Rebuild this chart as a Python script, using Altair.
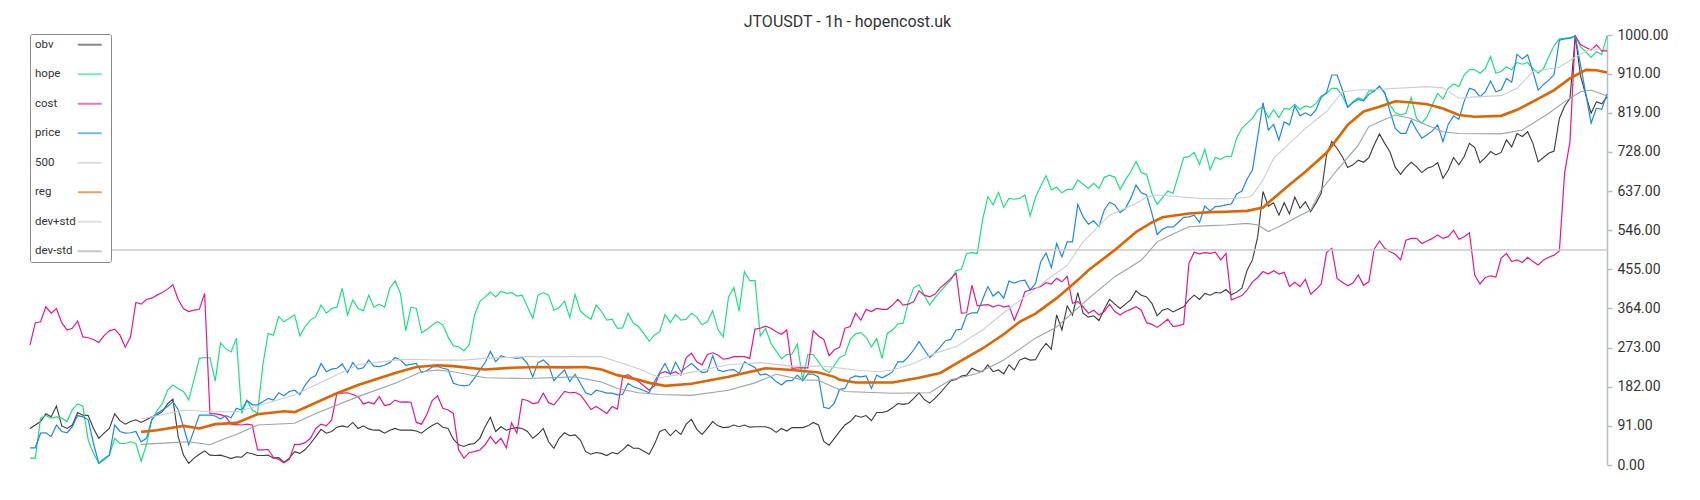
import altair as alt
import pandas as pd

TITLE = "JTOUSDT - 1h - hopencost.uk"
NAMES = ["obv", "hope", "cost", "price", "500", "reg", "dev+std", "dev-std"]
COLORS = ["#3a3a3a", "#1ee07f", "#e6198a", "#1e88e5", "#c8c8c8", "#e06400", "#c9cfd4", "#98a4ae"]
WIDTHS = [1.1, 1.2, 1.2, 1.2, 1.5, 2.6, 1.1, 1.1]
Y_TICKS = [0, 91, 182, 273, 364, 455, 546, 637, 728, 819, 910, 1000]
LAST_BAR = 298

OBV = [(0,85),(1,93),(2,101),(3,119),(4,112),(5,137),(6,91),(7,85),(8,93),(9,122),(10,116),(11,115),(12,85),(13,62),(14,74),(15,85),(16,119),(17,103),(18,95),(19,101),(20,105),(21,99),(22,105),(23,112),(24,116),(25,124),(26,142),(27,153),(28,66),(29,23),(30,4),(31,16),(32,25),(33,33),(34,23),(35,22),(36,23),(37,19),(38,15),(39,19),(40,18),(41,29),(42,26),(43,22),(44,22),(45,23),(46,16),(47,17),(48,6),(49,16),(50,31),(51,27),(52,36),(53,50),(54,66),(55,83),(56,74),(57,78),(58,88),(59,91),(60,88),(61,99),(62,85),(63,91),(64,84),(65,81),(66,81),(67,74),(68,81),(69,85),(70,81),(71,81),(72,81),(73,79),(74,74),(75,84),(76,92),(77,98),(78,88),(79,85),(80,60),(81,47),(82,43),(83,48),(84,50),(85,62),(86,89),(87,111),(88,78),(89,89),(90,81),(91,85),(92,87),(93,85),(94,78),(95,62),(96,72),(97,85),(98,54),(99,39),(100,62),(101,75),(102,68),(103,70),(104,58),(105,31),(106,25),(107,29),(108,27),(109,22),(110,29),(111,26),(112,35),(113,47),(114,39),(115,39),(117,25),(118,48),(119,78),(120,83),(121,68),(122,81),(123,71),(124,95),(125,106),(126,83),(127,71),(128,85),(129,101),(130,91),(131,87),(132,88),(133,93),(134,89),(135,93),(136,88),(137,89),(138,89),(139,89),(140,85),(141,76),(142,85),(143,79),(144,87),(145,87),(146,87),(147,91),(148,99),(149,93),(150,55),(151,46),(152,62),(153,78),(154,93),(155,101),(156,115),(157,111),(158,115),(159,103),(160,122),(161,122),(162,125),(163,133),(164,143),(165,141),(166,143),(167,155),(168,168),(169,152),(170,144),(171,155),(172,168),(173,182),(174,196),(175,199),(176,207),(177,209),(178,225),(179,219),(180,217),(181,233),(182,217),(183,221),(184,212),(185,233),(186,221),(187,244),(188,249),(189,244),(190,245),(191,267),(192,283),(193,269),(194,349),(195,314),(196,370),(197,349),(198,401),(199,353),(200,344),(201,347),(202,336),(203,362),(204,385),(205,374),(206,364),(207,374),(208,384),(209,405),(210,395),(211,391),(212,376),(213,347),(214,360),(215,364),(216,356),(217,362),(218,368),(219,384),(220,395),(221,385),(222,399),(223,395),(224,401),(225,400),(226,408),(227,396),(228,402),(229,411),(230,453),(231,477),(232,531),(233,636),(234,602),(235,610),(236,581),(237,610),(238,584),(239,623),(240,597),(241,612),(242,589),(243,609),(244,632),(245,721),(246,752),(247,736),(248,717),(249,692),(250,698),(251,709),(252,704),(253,715),(254,744),(255,770),(256,748),(257,728),(258,692),(259,676),(260,692),(261,704),(262,694),(263,680),(264,690),(265,694),(266,703),(267,667),(268,686),(269,715),(270,698),(271,717),(272,748),(273,738),(274,703),(275,715),(276,729),(277,721),(278,727),(279,756),(280,740),(281,771),(282,764),(283,775),(284,748),(285,705),(286,715),(287,725),(288,730),(289,806),(290,835),(291,853),(292,998),(293,905),(294,860),(295,818),(296,845),(297,840),(298,856)]

HOPE = [(0,16),(1,16),(2,109),(3,115),(4,109),(5,112),(6,109),(7,101),(8,129),(9,142),(10,137),(11,58),(12,27),(13,4),(14,16),(15,23),(16,62),(17,50),(18,50),(19,54),(20,50),(21,9),(22,47),(23,105),(24,126),(25,143),(26,174),(27,186),(28,178),(29,171),(30,151),(31,199),(32,248),(33,250),(34,249),(35,195),(36,284),(37,270),(38,263),(39,295),(40,120),(41,150),(42,128),(43,120),(44,233),(45,306),(46,302),(47,345),(48,333),(49,341),(50,349),(51,300),(52,322),(53,337),(54,345),(55,372),(56,353),(57,364),(58,367),(59,411),(60,349),(61,384),(62,364),(63,359),(64,395),(65,367),(66,374),(67,367),(68,411),(69,428),(70,399),(71,312),(72,367),(73,364),(74,308),(75,315),(76,325),(77,333),(78,326),(79,298),(80,277),(81,275),(82,266),(83,279),(84,349),(85,380),(86,391),(87,402),(88,391),(89,404),(90,399),(91,401),(92,393),(93,395),(94,368),(95,341),(96,395),(97,401),(98,395),(99,360),(100,366),(101,381),(102,343),(103,397),(104,358),(105,347),(106,339),(107,372),(108,357),(109,337),(110,339),(111,318),(112,319),(113,353),(114,330),(115,322),(117,288),(118,302),(119,310),(120,350),(121,331),(122,350),(123,337),(124,339),(125,353),(126,344),(127,326),(128,333),(129,359),(130,315),(131,298),(132,391),(133,413),(134,358),(135,450),(136,429),(137,429),(138,300),(139,318),(140,283),(141,265),(142,247),(143,257),(144,258),(145,281),(146,198),(147,257),(148,257),(149,240),(150,222),(151,215),(152,232),(153,250),(154,256),(155,292),(156,305),(157,308),(158,297),(159,275),(160,294),(161,248),(162,306),(163,314),(164,328),(165,330),(166,380),(167,412),(168,419),(169,395),(170,372),(171,389),(172,403),(173,417),(174,430),(175,452),(176,455),(177,492),(178,494),(179,492),(180,570),(181,624),(182,605),(183,634),(184,599),(185,620),(186,618),(187,620),(188,628),(189,579),(190,622),(191,649),(192,673),(193,640),(194,646),(195,633),(196,641),(197,641),(198,663),(199,653),(200,643),(201,655),(202,643),(203,669),(204,674),(205,669),(206,641),(207,663),(208,682),(209,706),(210,680),(211,676),(212,632),(213,606),(214,622),(215,637),(216,632),(218,715),(219,717),(220,727),(221,699),(222,734),(223,687),(224,715),(225,711),(226,718),(227,717),(228,760),(229,783),(230,795),(231,806),(232,826),(233,833),(234,808),(235,826),(236,808),(237,829),(238,827),(239,839),(240,827),(241,835),(242,832),(243,841),(244,858),(245,864),(246,876),(247,876),(248,858),(249,832),(250,845),(251,854),(252,849),(253,870),(254,870),(255,880),(256,864),(257,837),(258,819),(259,814),(260,818),(261,855),(262,806),(263,795),(264,810),(265,838),(266,864),(267,851),(268,876),(269,886),(270,880),(271,907),(272,920),(273,919),(274,911),(275,922),(276,950),(277,911),(278,915),(279,926),(280,919),(281,936),(282,932),(283,936),(284,922),(285,911),(286,922),(287,950),(288,975),(289,991),(290,992),(291,994),(292,998),(293,973),(294,961),(295,948),(296,961),(297,955),(298,998)]

COST = [(0,279),(1,331),(2,333),(3,368),(4,353),(5,364),(6,331),(7,314),(8,318),(9,335),(10,298),(11,296),(12,292),(13,285),(14,301),(15,312),(16,316),(17,302),(18,274),(19,298),(20,378),(21,374),(22,385),(23,388),(24,395),(25,401),(26,409),(27,419),(28,385),(29,364),(30,357),(31,360),(32,362),(33,399),(34,120),(35,119),(36,117),(37,112),(38,95),(39,94),(40,93),(41,95),(42,93),(43,35),(44,35),(45,36),(46,18),(47,13),(48,5),(49,13),(50,48),(51,48),(52,52),(53,62),(54,85),(55,95),(56,91),(57,105),(58,167),(59,167),(60,168),(61,164),(62,159),(63,142),(64,146),(65,142),(66,159),(67,138),(68,141),(69,151),(70,146),(71,147),(72,146),(73,99),(74,95),(75,118),(76,150),(77,161),(78,132),(79,128),(80,120),(81,35),(82,16),(83,29),(84,31),(85,35),(86,47),(87,66),(88,50),(89,62),(90,40),(91,98),(92,74),(93,153),(94,150),(95,143),(96,145),(97,167),(98,145),(99,140),(100,155),(101,171),(102,168),(103,169),(104,163),(105,147),(106,129),(107,136),(108,128),(109,120),(110,136),(111,130),(112,206),(113,210),(114,202),(115,194),(117,174),(118,184),(119,213),(120,217),(121,212),(122,217),(123,209),(124,250),(125,260),(126,240),(127,233),(128,257),(129,261),(130,256),(131,246),(132,248),(133,252),(134,252),(135,252),(136,248),(137,316),(138,318),(139,323),(140,318),(141,310),(142,304),(143,314),(144,225),(145,226),(146,226),(147,226),(148,312),(149,300),(150,292),(151,254),(152,268),(153,274),(154,318),(155,322),(156,353),(157,337),(158,362),(159,357),(160,364),(161,362),(162,362),(163,372),(164,385),(165,372),(166,374),(167,380),(168,405),(169,395),(170,391),(171,397),(172,412),(173,422),(174,434),(175,446),(176,353),(177,354),(178,418),(179,370),(180,372),(181,373),(182,368),(183,372),(184,368),(185,370),(186,337),(187,366),(188,403),(189,407),(190,411),(191,415),(192,424),(193,421),(194,434),(195,426),(196,439),(197,376),(198,380),(199,368),(200,353),(201,360),(202,349),(203,357),(204,374),(205,357),(206,349),(207,357),(208,362),(209,368),(210,360),(211,331),(212,327),(213,320),(214,329),(215,339),(216,322),(217,324),(218,327),(219,469),(220,495),(221,491),(222,494),(223,492),(224,495),(225,477),(226,492),(227,384),(228,389),(229,394),(230,407),(231,426),(232,436),(233,450),(234,444),(235,452),(236,444),(237,448),(238,415),(239,425),(240,415),(241,432),(242,397),(243,408),(244,421),(245,494),(246,504),(247,434),(248,425),(249,417),(250,423),(251,442),(252,418),(253,426),(254,502),(255,521),(256,504),(257,496),(258,490),(259,477),(260,523),(261,527),(262,527),(263,515),(264,521),(265,527),(266,535),(267,527),(268,531),(269,546),(270,525),(271,531),(272,540),(273,442),(274,421),(275,436),(276,440),(277,437),(278,481),(279,492),(280,473),(281,477),(282,471),(283,483),(284,473),(285,465),(286,477),(287,483),(288,488),(289,498),(290,680),(291,752),(292,998),(293,978),(294,971),(295,965),(296,977),(297,963),(298,963)]

PRICE = [(0,40),(1,40),(2,74),(3,75),(4,66),(5,93),(6,78),(7,75),(8,89),(9,115),(10,112),(11,105),(12,50),(13,4),(14,12),(15,23),(16,93),(17,78),(18,74),(19,75),(20,78),(21,54),(22,62),(23,105),(24,120),(25,128),(26,136),(27,147),(28,129),(29,89),(30,47),(31,81),(32,116),(33,116),(34,116),(35,114),(36,107),(37,115),(38,110),(39,132),(40,128),(41,150),(42,140),(43,140),(44,147),(45,155),(46,151),(47,168),(48,161),(49,171),(50,174),(51,164),(52,186),(53,202),(54,208),(55,236),(56,217),(57,223),(58,225),(59,235),(60,215),(61,238),(62,223),(63,226),(64,244),(65,230),(66,229),(67,232),(68,238),(69,250),(70,244),(71,232),(72,234),(73,236),(74,215),(75,219),(76,228),(77,229),(78,225),(79,222),(80,190),(81,186),(82,184),(83,186),(84,202),(85,221),(86,238),(87,264),(88,240),(89,254),(90,250),(91,250),(92,248),(93,250),(94,236),(95,205),(96,238),(97,244),(98,233),(99,196),(100,209),(101,221),(102,194),(103,211),(104,190),(105,168),(106,163),(107,174),(108,171),(109,167),(110,167),(111,163),(112,164),(113,190),(114,182),(115,178),(117,168),(118,194),(119,215),(120,236),(121,211),(122,239),(123,217),(124,227),(125,236),(126,225),(127,215),(128,217),(129,254),(130,221),(131,217),(132,221),(133,222),(134,213),(135,240),(136,233),(137,227),(138,209),(139,212),(140,205),(141,194),(142,186),(143,196),(144,196),(145,209),(146,196),(147,212),(148,211),(149,205),(150,134),(151,131),(152,144),(153,176),(154,178),(155,202),(156,207),(157,205),(158,207),(159,178),(160,209),(161,203),(162,209),(163,217),(164,240),(165,240),(166,252),(167,268),(168,287),(169,268),(170,250),(171,261),(172,274),(173,289),(174,292),(175,314),(176,316),(177,349),(178,354),(179,354),(180,385),(181,415),(182,393),(183,403),(184,388),(185,428),(186,423),(187,428),(188,430),(189,407),(190,422),(191,473),(192,493),(193,459),(194,515),(195,484),(196,519),(197,519),(198,606),(199,577),(200,560),(201,568),(202,554),(203,593),(204,611),(205,605),(206,587),(207,597),(208,620),(209,651),(210,633),(211,628),(212,585),(213,536),(214,548),(215,554),(216,553),(217,564),(218,576),(219,577),(220,581),(221,564),(222,602),(223,591),(224,601),(225,602),(226,605),(227,607),(228,630),(229,637),(230,665),(231,686),(232,764),(233,843),(234,779),(235,792),(236,756),(237,798),(238,791),(239,835),(240,812),(241,819),(242,812),(243,826),(244,855),(245,866),(246,907),(247,907),(248,872),(249,832),(250,843),(251,850),(252,847),(253,862),(254,870),(255,881),(256,866),(257,822),(258,783),(259,771),(260,771),(261,802),(262,779),(263,760),(264,768),(265,777),(266,791),(267,752),(268,792),(269,812),(270,804),(271,845),(272,876),(273,872),(274,856),(275,868),(276,893),(277,868),(278,872),(279,899),(280,890),(281,955),(282,944),(283,954),(284,915),(285,872),(286,885),(287,895),(288,908),(289,988),(290,991),(291,992),(292,998),(293,930),(294,863),(295,795),(296,830),(297,827),(298,863)]

LEVEL_500 = [(0,500),(298,500)]

REG = [(21,77),(24,81),(29,91),(32,85),(35,95),(39,98),(43,118),(48,125),(50,123),(58,167),(62,186),(69,214),(73,228),(77,232),(80,230),(86,222),(91,226),(96,228),(101,227),(105,228),(108,222),(111,209),(115,198),(117,191),(120,184),(125,189),(132,205),(139,225),(144,221),(149,215),(152,205),(153,198),(156,192),(163,192),(168,203),(172,214),(175,236),(180,271),(184,304),(187,333),(190,352),(194,388),(198,430),(200,453),(205,500),(209,542),(212,564),(214,576),(219,585),(223,588),(226,589),(230,591),(233,599),(234,610),(238,652),(241,682),(245,726),(249,791),(252,822),(255,833),(258,846),(261,843),(264,839),(267,829),(270,814),(273,810),(278,812),(281,826),(284,845),(288,872),(291,899),(294,919),(296,918),(298,913)]

DEV_PLUS = [(21,107),(27,122),(29,128),(34,124),(39,124),(43,137),(50,163),(56,198),(62,233),(69,244),(72,246),(77,244),(82,244),(86,248),(94,252),(108,252),(111,240),(115,224),(119,203),(124,213),(132,233),(138,238),(144,230),(150,230),(156,221),(160,217),(163,221),(167,236),(171,260),(175,275),(180,314),(185,364),(190,409),(192,429),(196,464),(199,519),(204,581),(209,608),(211,623),(213,628),(216,625),(221,620),(226,619),(230,622),(231,628),(233,663),(235,713),(238,748),(241,783),(245,822),(248,868),(251,872),(255,874),(264,880),(267,877),(270,853),(273,856),(278,859),(281,876),(284,915),(289,925),(292,949),(295,968),(298,967)]

DEV_MINUS = [(21,48),(27,52),(30,54),(34,47),(37,62),(39,71),(43,93),(50,97),(54,120),(62,159),(69,190),(74,217),(77,221),(80,217),(86,203),(94,201),(103,205),(108,193),(111,178),(115,168),(119,164),(125,162),(132,174),(137,191),(141,211),(146,198),(149,197),(152,180),(154,171),(163,167),(170,168),(174,198),(179,213),(184,244),(190,295),(194,321),(200,387),(205,438),(210,476),(213,519),(216,537),(219,554),(222,556),(226,558),(230,562),(232,558),(234,543),(236,554),(239,574),(242,593),(244,640),(247,686),(251,744),(253,787),(255,798),(258,814),(261,806),(264,790),(267,775),(270,771),(278,770),(282,779),(287,818),(290,845),(293,868),(295,872),(298,858)]

SERIES = [OBV, HOPE, COST, PRICE, LEVEL_500, REG, DEV_PLUS, DEV_MINUS]

rows = []
for name, pts in zip(NAMES, SERIES):
    for i, v in pts:
        rows.append({"series": name, "bar": i, "value": v})
df = pd.DataFrame(rows)

x_enc = alt.X("bar:Q", scale=alt.Scale(domain=[0, LAST_BAR], nice=False, zero=False), axis=None)
y_enc = alt.Y(
    "value:Q",
    scale=alt.Scale(domain=[0, 1000], nice=False, zero=False),
    axis=alt.Axis(
        orient="right", values=Y_TICKS, format=".2f", title=None, grid=False,
        labelFont="Roboto", labelFontSize=14, labelColor="#333333", labelPadding=5,
        domainColor="#b4bcc4", tickColor="#b4bcc4", tickSize=5, domainWidth=1.5, tickWidth=1.5,
    ),
)
color_enc = alt.Color(
    "series:N",
    scale=alt.Scale(domain=NAMES, range=COLORS),
    legend=alt.Legend(
        title=None, orient="none", legendX=0, legendY=-1, direction="vertical",
        symbolType="M-3,0H3", symbolSize=64, symbolStrokeWidth=2, symbolOpacity=0.6,
        symbolFillColor="transparent",
        symbolOffset=49, labelAlign="left", labelOffset={"expr": "-60.5"},
        labelFont="Roboto", labelFontSize=11.5, labelColor="#333333",
        rowPadding=16.5, padding=5, strokeColor="#888888",
        fillColor="white", cornerRadius=2,
    ),
)

layers = []
for name, w in zip(NAMES, WIDTHS):
    layers.append(
        alt.Chart(df)
        .transform_filter(alt.datum.series == name)
        .mark_line(strokeWidth=w)
        .encode(x=x_enc, y=y_enc, color=color_enc)
    )

chart = (
    alt.layer(*layers)
    .properties(
        width=1577, height=430,
        title=alt.TitleParams(TITLE, font="Roboto", fontSize=16, fontWeight="normal",
                              color="#333333", anchor="middle", frame="bounds", offset=8, dy=10),
        autosize=alt.AutoSizeParams(type="none"),
        padding={"left": 22, "top": 27, "right": 85, "bottom": 27},
    )
    .configure_view(stroke=None)
)

chart.save("out.html", embed_options={"renderer": "svg", "actions": False})
